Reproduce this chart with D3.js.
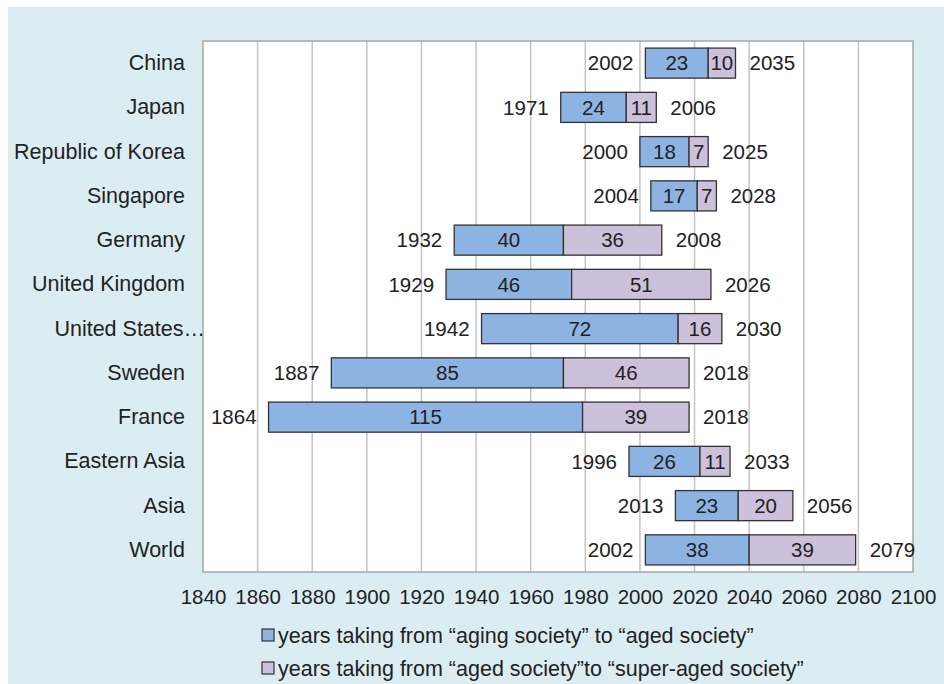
<!DOCTYPE html>
<html>
<head>
<meta charset="utf-8">
<script src="https://cdn.jsdelivr.net/npm/d3@7"></script>
<style>
	body { margin: 0; background: #fff; }
	text { font-family: "Liberation Sans", Arial, sans-serif; fill: #222; }
</style>
</head>
<body>
<div id="graph"></div>
<script>
// chart data
var countries = ["China", "Japan", "Republic of Korea", "Singapore", "Germany", "United Kingdom",
	"United States…", "Sweden", "France", "Eastern Asia", "Asia", "World"];
var startYears = [2002, 1971, 2000, 2004, 1932, 1929, 1942, 1887, 1864, 1996, 2013, 2002];
var agingYears = [23, 24, 18, 17, 40, 46, 72, 85, 115, 26, 23, 38];
var agedYears  = [10, 11, 7, 7, 36, 51, 16, 46, 39, 11, 20, 39];
var endYears   = [2035, 2006, 2025, 2028, 2008, 2026, 2030, 2018, 2018, 2033, 2056, 2079];
var xTicks = [1840, 1860, 1880, 1900, 1920, 1940, 1960, 1980, 2000, 2020, 2040, 2060, 2080, 2100];
var legendLabels = ["years taking from \u201caging society\u201d to \u201caged society\u201d",
	"years taking from \u201caged society\u201dto \u201csuper-aged society\u201d"];

var SVGwidth = 944,
	SVGheight = 684,
	margin = {top: 41, right: 31, bottom: 112, left: 203},
	width = SVGwidth - margin.left - margin.right,
	height = SVGheight - margin.top - margin.bottom;

var blue = "#8db3e2", purple = "#ccc0da";
var fs = "21.5px";

var svg = d3.select("div#graph")
	.append("svg")
	.attr("width", SVGwidth)
	.attr("height", SVGheight);

// light blue panel
svg.append("rect")
	.attr("x", 8).attr("y", 7)
	.attr("width", SVGwidth - 8).attr("height", SVGheight - 7)
	.attr("fill", "#dbedf3");

var g = svg.append("g").attr("transform", "translate(" + margin.left + "," + margin.top + ")");

var x = d3.scaleLinear()
	.domain([1840, 2100])
	.range([0, width]);

var y = d3.scaleBand()
	.domain(countries)
	.range([0, height])
	.paddingInner(0.32)
	.paddingOuter(0.16);

var rows = countries.map(function(c, i) {
	return {name: c, start: startYears[i], aging: agingYears[i], aged: agedYears[i], end: endYears[i]};
});

g.append("rect")
	.attr("width", width).attr("height", height)
	.attr("fill", "#fff");

// vertical gridlines
g.selectAll("line.grid")
	.data(xTicks.slice(1, -1))
	.enter().append("line")
	.attr("class", "grid")
	.attr("x1", function(d) { return x(d); })
	.attr("x2", function(d) { return x(d); })
	.attr("y1", 0).attr("y2", height)
	.attr("stroke", "#c4c4c4")
	.attr("stroke-width", 1.5);

g.append("rect")
	.attr("width", width).attr("height", height)
	.attr("fill", "none")
	.attr("stroke", "#a6a6a6")
	.attr("stroke-width", 1.5);

// x axis
var xAxis = d3.axisBottom(x)
	.tickValues(xTicks)
	.tickSize(0)
	.tickPadding(17)
	.tickFormat(d3.format("d"));

var xg = g.append("g")
	.attr("transform", "translate(0," + height + ")")
	.call(xAxis);
xg.select(".domain").remove();
xg.selectAll("text").style("font-size", "20.5px").attr("font-family", null);

// y axis (category labels); the clipped label runs up to the plot edge like in Excel
var yAxis = d3.axisLeft(y).tickSize(0).tickPadding(18);
var yg = g.append("g").call(yAxis);
yg.select(".domain").remove();
yg.selectAll("text")
	.style("font-size", fs)
	.attr("font-family", null)
	.attr("dx", function(d) { return d.slice(-1) == "…" ? 20 : 0; });

var bh = y.bandwidth();

var bars = g.selectAll("g.row")
	.data(rows)
	.enter().append("g")
	.attr("class", "row")
	.attr("transform", function(d) { return "translate(0," + y(d.name) + ")"; });

bars.append("rect")
	.attr("x", function(d) { return x(d.start); })
	.attr("width", function(d) { return x(d.start + d.aging) - x(d.start); })
	.attr("height", bh)
	.attr("fill", blue)
	.attr("stroke", "#333")
	.attr("stroke-width", 1.3);

bars.append("rect")
	.attr("x", function(d) { return x(d.start + d.aging); })
	.attr("width", function(d) { return x(d.start + d.aging + d.aged) - x(d.start + d.aging); })
	.attr("height", bh)
	.attr("fill", purple)
	.attr("stroke", "#333")
	.attr("stroke-width", 1.3);

var lbl = function(sel) {
	return sel.attr("y", bh / 2).attr("dy", "0.35em").style("font-size", "20.5px");
};

bars.append("text").call(lbl)
	.attr("x", function(d) { return x(d.start + d.aging / 2); })
	.attr("text-anchor", "middle")
	.text(function(d) { return d.aging; });

bars.append("text").call(lbl)
	.attr("x", function(d) { return x(d.start + d.aging + d.aged / 2); })
	.attr("text-anchor", "middle")
	.text(function(d) { return d.aged; });

bars.append("text").call(lbl)
	.attr("x", function(d) { return x(d.start) - 12; })
	.attr("text-anchor", "end")
	.text(function(d) { return d.start; });

bars.append("text").call(lbl)
	.attr("x", function(d) { return x(d.end) + 14; })
	.attr("text-anchor", "start")
	.text(function(d) { return d.end; });

// legend
var legend = svg.selectAll("g.legend")
	.data(legendLabels)
	.enter().append("g")
	.attr("class", "legend")
	.attr("transform", function(d, i) { return "translate(262," + (635 + i * 33) + ")"; });

legend.append("rect")
	.attr("x", 0).attr("y", -6)
	.attr("width", 12).attr("height", 12)
	.attr("fill", function(d, i) { return i == 0 ? blue : purple; })
	.attr("stroke", "#333")
	.attr("stroke-width", 1.2);

legend.append("text")
	.attr("x", 16)
	.attr("dy", "0.35em")
	.style("font-size", fs)
	.text(function(d) { return d; });
</script>
</body>
</html>
